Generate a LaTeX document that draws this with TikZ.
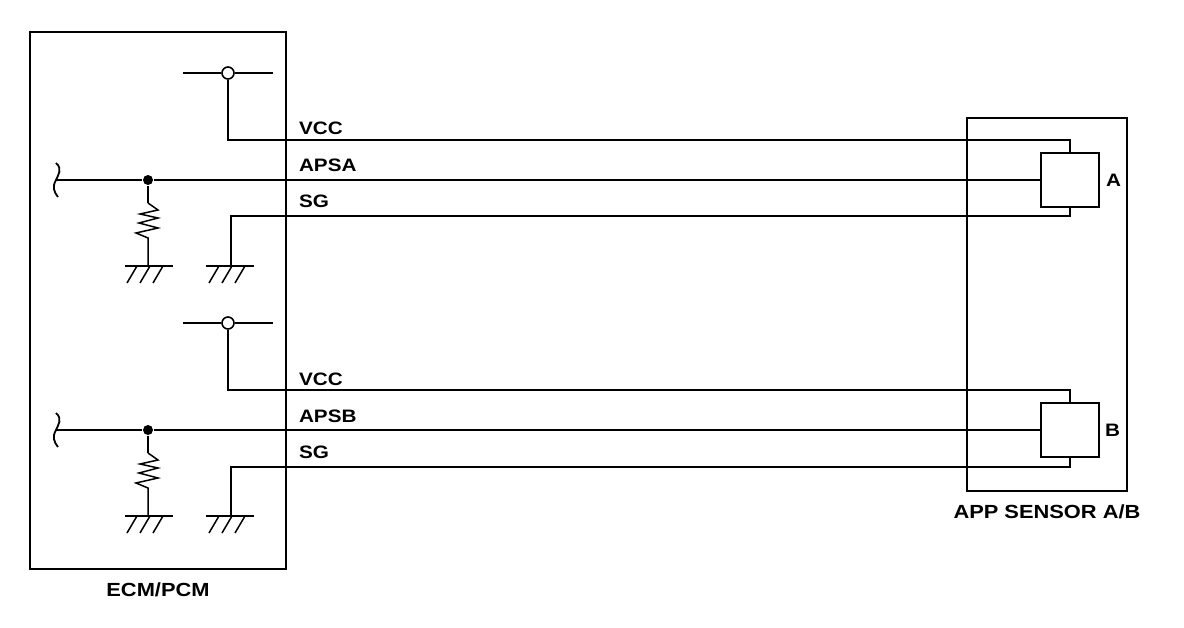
\documentclass[tikz,border=0pt]{standalone}
\usepackage{fontspec}
\setmainfont{Liberation Sans}[FakeStretch=1.15]
\begin{document}
\begin{tikzpicture}[x=1pt,y=-1pt,line width=2pt]
          \tikzstyle{every node}=[font=\bfseries\fontsize{18}{20}\selectfont];
          \tikzstyle{pin}=[draw,circle,fill=white,inner sep=0pt,minimum size=12pt,line width=1.6pt];
          \tikzstyle{junction}=[fill,circle,inner sep=0pt,minimum size=10pt];
          \tikzstyle{unit}=[draw,rectangle,inner sep=0pt];
          \tikzstyle{sensor}=[draw,rectangle,inner sep=0pt,minimum width=58pt,minimum height=54pt];
          \tikzstyle{wire}=[anchor=base west,inner sep=0pt];
          \useasboundingbox (0,0) rectangle (1184,628);
          %boxes
          \node[unit,minimum width=256pt,minimum height=537pt] (ecm) at (158,300.5) {};
          \node (ecmlbl) at (158,590) {\fontsize{19}{21}\selectfont ECM/PCM};
          \node[unit,minimum width=160pt,minimum height=373pt] (app) at (1047,304.5) {};
          \node (applbl) at (1047,512) {\fontsize{19}{21}\selectfont APP SENSOR A/B};
          \node[sensor] (sena) at (1070,180) {};
          \node[sensor] (senb) at (1070,430) {};
          \node[anchor=west,inner sep=0pt] (lbla) at ([xshift=5pt]sena.east) {A};
          \node[anchor=west,inner sep=0pt] (lblb) at ([xshift=4pt]senb.east) {B};
          %sensor A
          \node[pin] (vcca) at (228,73) {};
          \draw (183,73) -- (vcca.west);
          \draw (vcca.east) -- (273,73);
          \draw (vcca.south) |- (1070,140) -- (sena.north);
          \coordinate (tla) at (56,180);
          \draw[line width=1.8pt] (56,163) .. controls (63,169) and (58,175) .. (tla) .. controls (52,187) and (54,192) .. (58,197);
          \node[junction] (ja) at (148,180) {};
          \draw (tla) -- (ja) -- (sena.west);
          \coordinate (ra) at (148,203);
          \coordinate (gra) at (148,266);
          \draw (ja) -- (ra);
          \draw[line width=1.5pt] (ra) -- (158,210) -- (140,214) -- (158,218) -- (139,223) -- (158,228) -- (136,233) -- (148,238) -- (gra);
          \draw (gra) ++(-23,0) -- ++(48,0);
          \draw[line width=1.5pt] (gra) ++(-11,0) -- ++(-10,17) (gra) ++(2,0) -- ++(-10,17) (gra) ++(15,0) -- ++(-10,17);
          \coordinate (gsa) at (231,266);
          \draw (gsa) |- (1070,216) -- (sena.south);
          \draw (gsa) ++(-25,0) -- ++(48,0);
          \draw[line width=1.5pt] (gsa) ++(-12,0) -- ++(-10,17) (gsa) ++(1,0) -- ++(-10,17) (gsa) ++(14,0) -- ++(-10,17);
          \node[wire] (vcclbla) at (298,135) {VCC};
          \node[wire] (siglbla) at (298,172) {APSA};
          \node[wire] (sglbla) at (298,208) {SG};
          %sensor B
          \node[pin] (vccb) at (228,323) {};
          \draw (183,323) -- (vccb.west);
          \draw (vccb.east) -- (273,323);
          \draw (vccb.south) |- (1070,390) -- (senb.north);
          \coordinate (tlb) at (56,430);
          \draw[line width=1.8pt] (56,413) .. controls (63,419) and (58,425) .. (tlb) .. controls (52,437) and (54,442) .. (58,447);
          \node[junction] (jb) at (148,430) {};
          \draw (tlb) -- (jb) -- (senb.west);
          \coordinate (rb) at (148,453);
          \coordinate (grb) at (148,516);
          \draw (jb) -- (rb);
          \draw[line width=1.5pt] (rb) -- (158,460) -- (140,464) -- (158,468) -- (139,473) -- (158,478) -- (136,483) -- (148,488) -- (grb);
          \draw (grb) ++(-23,0) -- ++(48,0);
          \draw[line width=1.5pt] (grb) ++(-11,0) -- ++(-10,17) (grb) ++(2,0) -- ++(-10,17) (grb) ++(15,0) -- ++(-10,17);
          \coordinate (gsb) at (231,516);
          \draw (gsb) |- (1070,467) -- (senb.south);
          \draw (gsb) ++(-25,0) -- ++(48,0);
          \draw[line width=1.5pt] (gsb) ++(-12,0) -- ++(-10,17) (gsb) ++(1,0) -- ++(-10,17) (gsb) ++(14,0) -- ++(-10,17);
          \node[wire] (vcclblb) at (298,385) {VCC};
          \node[wire] (siglblb) at (298,422) {APSB};
          \node[wire] (sglblb) at (298,458) {SG};
      \end{tikzpicture}
\end{document}
